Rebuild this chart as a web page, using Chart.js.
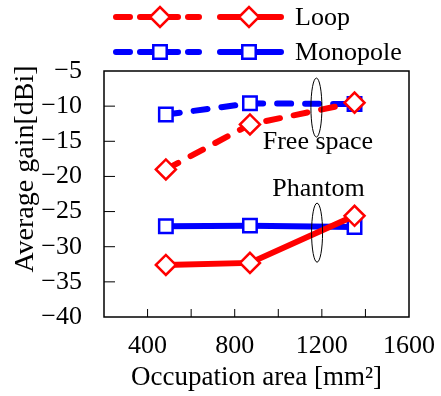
<!DOCTYPE html>
<html>
<head>
<meta charset="utf-8">
<script src="https://cdn.jsdelivr.net/npm/chart.js@4"></script>
<style>
  body { margin: 0; background: #fff; }
</style>
</head>
<body>
<canvas id="chart" width="441" height="396"></canvas>
<script>
// data
const areas = [484, 870, 1350];
const loopFree = [-19.0, -12.6, -9.5];
const loopPhantom = [-32.6, -32.3, -25.6];
const monoFree = [-11.2, -9.6, -9.7];
const monoPhantom = [-27.1, -27.0, -27.2];
const xTicks = [400, 800, 1200, 1600];
const yTicks = [-5, -10, -15, -20, -25, -30, -35, -40];

const RED = '#ff0000';
const BLUE = '#0000ff';
const FONT = 'Liberation Serif, Times New Roman, serif';
const DASH = [14, 14];

function pts(ys) {
    return areas.map((x, i) => ({ x: x, y: ys[i] }));
}

function ds(label, ys, color, style, dashed) {
    return {
        label: label,
        data: pts(ys),
        borderColor: color,
        backgroundColor: '#fff',
        borderWidth: 6,
        borderDash: dashed ? DASH : [],
        borderCapStyle: 'round',
        pointStyle: style,
        pointRadius: style === 'rectRot' ? 10 : 9.5,
        pointBorderWidth: 2.5,
        pointBorderColor: color,
        pointBackgroundColor: '#fff',
        tension: 0
    };
}

const extras = {
    id: 'extras',
    afterDraw(chart) {
        const c = chart.ctx;
        const a = chart.chartArea;
        const xs = chart.scales.x;
        const ys = chart.scales.y;
        c.save();

        // frame
        c.strokeStyle = '#000';
        c.lineWidth = 1.5;
        c.strokeRect(a.left, a.top, a.right - a.left, a.bottom - a.top);

        // inner ticks
        c.lineWidth = 1;
        c.beginPath();
        for (let v = 400; v < 1600; v += 200) {
            const px = xs.getPixelForValue(v);
            c.moveTo(px, a.bottom);
            c.lineTo(px, a.bottom - 8);
        }
        for (let v = -10; v > -40; v -= 5) {
            const py = ys.getPixelForValue(v);
            c.moveTo(a.left, py);
            c.lineTo(a.left + 11, py);
        }
        c.stroke();

        // ellipses round the groups
        c.lineWidth = 1;
        [[1175, -10.2], [1178, -28.0]].forEach(e => {
            c.beginPath();
            c.ellipse(xs.getPixelForValue(e[0]), ys.getPixelForValue(e[1]), 5.5, 29.5, 0, 0, Math.PI * 2);
            c.stroke();
        });

        // annotations
        c.fillStyle = '#000';
        c.font = '26px ' + FONT;
        c.textAlign = 'center';
        c.textBaseline = 'middle';
        c.fillText('Free space', xs.getPixelForValue(1182), ys.getPixelForValue(-15.1));
        c.fillText('Phantom', xs.getPixelForValue(1185), ys.getPixelForValue(-21.8));

        // y title
        c.save();
        c.translate(26, 169);
        c.rotate(-Math.PI / 2);
        c.font = '28px ' + FONT;
        c.fillText('Average gain[dBi]', 0, 0);
        c.restore();

        // legend: dashed + solid sample per antenna
        const rows = [
            { y: 17, color: RED, style: 'rectRot', r: 10, text: 'Loop' },
            { y: 52, color: BLUE, style: 'rect', r: 9.5, text: 'Monopole' }
        ];
        const dashSegs = [[116, 130], [140, 178], [188, 199]];
        rows.forEach(row => {
            c.strokeStyle = row.color;
            c.lineWidth = 6;
            c.lineCap = 'round';
            c.beginPath();
            dashSegs.forEach(s => {
                c.moveTo(s[0], row.y);
                c.lineTo(s[1], row.y);
            });
            c.moveTo(220, row.y);
            c.lineTo(281, row.y);
            c.stroke();
            c.lineCap = 'butt';
            c.fillStyle = '#fff';
            c.lineWidth = 2.5;
            Chart.helpers.drawPoint(c, { pointStyle: row.style, radius: row.r, borderWidth: 2.5 }, 160, row.y);
            Chart.helpers.drawPoint(c, { pointStyle: row.style, radius: row.r, borderWidth: 2.5 }, 249, row.y);
            c.fillStyle = '#000';
            c.font = '26px ' + FONT;
            c.textAlign = 'left';
            c.fillText(row.text, 295, row.y + 1);
        });
        c.restore();
    }
};

new Chart(
    document.getElementById('chart'),
    {
        type: 'line',
        data: {
            datasets: [
                ds('Loop free space', loopFree, RED, 'rectRot', true),
                ds('Loop phantom', loopPhantom, RED, 'rectRot', false),
                ds('Monopole free space', monoFree, BLUE, 'rect', true),
                ds('Monopole phantom', monoPhantom, BLUE, 'rect', false)
            ]
        },
        options: {
            responsive: false,
            animation: false,
            layout: { padding: { top: 71, right: 30, left: 0, bottom: 0 } },
            plugins: {
                legend: { display: false },
                tooltip: { enabled: false }
            },
            scales: {
                x: {
                    type: 'linear',
                    min: 200,
                    max: 1600,
                    grid: { display: false },
                    border: { display: false },
                    afterBuildTicks: s => { s.ticks = xTicks.map(v => ({ value: v })); },
                    afterFit: s => { s.height = 79; },
                    ticks: {
                        color: '#000',
                        padding: 6,
                        maxRotation: 0,
                        font: { family: FONT, size: 26 },
                        callback: v => String(v)
                    },
                    title: {
                        display: true,
                        text: 'Occupation area [mm²]',
                        color: '#000',
                        padding: { top: 0, bottom: 2 },
                        font: { family: FONT, size: 27 }
                    }
                },
                y: {
                    min: -40,
                    max: -5,
                    grid: { display: false },
                    border: { display: false },
                    afterBuildTicks: s => { s.ticks = yTicks.map(v => ({ value: v })); },
                    afterFit: s => { s.width = 104; },
                    ticks: {
                        color: '#000',
                        padding: 14,
                        font: { family: FONT, size: 26 },
                        callback: v => '\u2212' + Math.abs(v)
                    }
                }
            }
        },
        plugins: [extras]
    }
);
</script>
</body>
</html>
